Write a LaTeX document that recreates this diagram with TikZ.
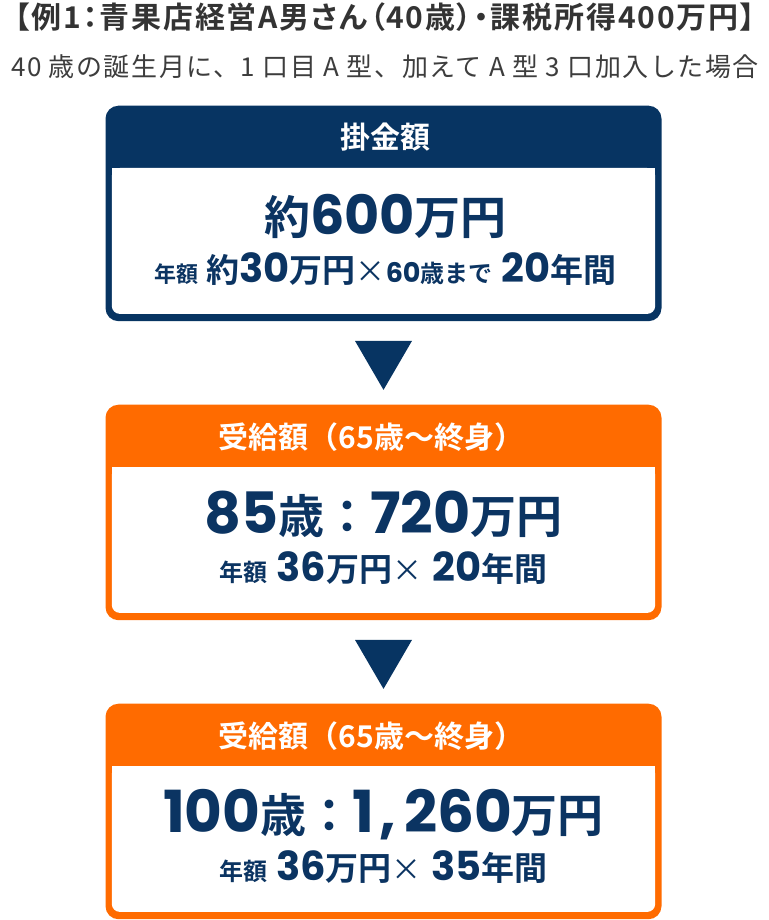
\documentclass[tikz,border=0pt]{standalone}
\usepackage{fontspec}
\usetikzlibrary{calc}
\setmainfont{Noto Sans CJK JP}
\newfontfamily\jpb{Noto Sans CJK JP}[UprightFont={* Bold}]
\newfontfamily\jpt{Noto Sans CJK JP}[UprightFont={* Bold}, RawFeature=+palt, LetterSpace=6]
\newfontfamily\subf{Noto Sans CJK JP}[LetterSpace=6]
\newfontfamily\digf{Poppins}[Numbers=Monospaced]
\definecolor{navy}{HTML}{073462}
\definecolor{orng}{HTML}{FF6B00}
\definecolor{txt}{HTML}{0B3462}
\definecolor{ttl}{HTML}{333333}
\definecolor{sub}{HTML}{3D3D3D}
\newcommand\J[2]{{\jpb\fontsize{#1}{#1}\selectfont #2}}
\newcommand\D[2]{{\digf\bfseries\fontsize{#1}{#1}\selectfont #2}}
\newcommand\X{{\fontsize{30}{30}\selectfont ×}}
\tikzset{
  outerbox/.style={rectangle, rounded corners=13pt, minimum width=556pt,
    minimum height=215.5pt, inner sep=0pt, anchor=north},
  hdr/.style={anchor=base, inner sep=0pt, text=white},
  body/.style={anchor=base, inner sep=0pt, text=txt},
}
\begin{document}
\begin{tikzpicture}[x=1pt,y=-1pt]
\useasboundingbox (0,0) rectangle (768,920);
% title
\node[anchor=base, inner sep=0pt, text=ttl, text height=25pt, text depth=4pt] (title) at (385,29)
  {\jpt\fontsize{30}{30}\selectfont 【例1：青果店経営A男さん（40歳）・課税所得400万円】};
\node[anchor=base, inner sep=0pt, text=sub] (subtitle) at (385,77)
  {\subf\fontsize{26}{26}\selectfont 40 歳の誕生月に、1 口目 A 型、加えて A 型 3 口加入した場合};
% boxes
\foreach \n/\t/\c in {b1/105.5/navy, b2/404.5/orng, b3/703.5/orng}{
  \node[outerbox, fill=\c] (\n) at (383.5,\t) {};
  \fill[white, rounded corners=8pt] ($(\n.north west)+(6.5,62.5)$) rectangle ($(\n.south east)+(-6.5,-7.5)$);
  \fill[white] ($(\n.north west)+(6.5,62.5)$) rectangle ($(\n.north east)+(-6.5,75)$);
}
% arrows (triangles)
\fill[navy] ($(b1.south)+(-28.5,19.5)$) -- ($(b1.south)+(28.5,19.5)$) -- ($(b1.south)+(0,68.5)$) -- cycle;
\fill[navy] ($(b2.south)+(-28.5,19.5)$) -- ($(b2.south)+(28.5,19.5)$) -- ($(b2.south)+(0,68.5)$) -- cycle;
% box 1
\node[hdr] (h1) at ($(b1.north)+(2,43.5)$) {\J{30}{掛金額}};
\node[body] (m1) at ($(b1.north)+(2,129)$) {\J{46}{約}\D{54}{600}\J{46}{万円}};
\node[body] (s1) at ($(b1.north)+(2,177)$)
  {\J{22}{年額}\hspace{8pt}\J{33}{約}\D{40}{30}\J{33}{万円}\X\D{27}{60}\J{24}{歳まで}\hspace{9pt}\D{40}{20}\J{33}{年間}};
% box 2
\node[hdr] (h2) at ($(b2.north)+(-12,43.5)$) {\J{30}{受給額（65歳〜終身）}};
\node[body] (m2) at ($(b2.north)+(0,129)$) {\D{57}{85}\J{46}{歳：}\D{57}{720}\J{46}{万円}};
\node[body] (s2) at ($(b2.north)+(0,177)$)
  {\J{24}{年額}\hspace{9pt}\D{40}{36}\J{33}{万円}\X\hspace{10pt}\D{40}{20}\J{33}{年間}};
% box 3
\node[hdr] (h3) at ($(b3.north)+(-12,43.5)$) {\J{30}{受給額（65歳〜終身）}};
\node[body] (m3) at ($(b3.north)+(0,129)$) {\D{58}{100}\J{46}{歳：}\D{58}{1\kern5pt,\kern8pt260}\J{46}{万円}};
\node[body] (s3) at ($(b3.north)+(0,177)$)
  {\J{24}{年額}\hspace{9pt}\D{40}{36}\J{33}{万円}\X\hspace{10pt}\D{40}{35}\J{33}{年間}};
\end{tikzpicture}
\end{document}
